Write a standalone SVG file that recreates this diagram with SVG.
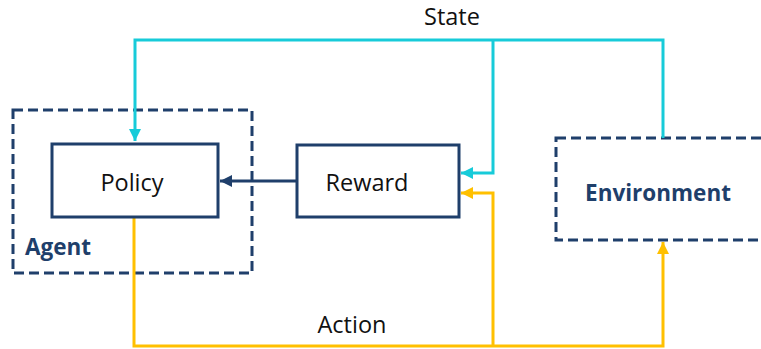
<svg xmlns="http://www.w3.org/2000/svg" width="761" height="349" viewBox="0 0 761 349">
  <style>
    .box { fill: #ffffff; stroke: #1f3f6b; stroke-width: 3; }
    .dash { fill: none; stroke: #1f3f6b; stroke-width: 3; stroke-dasharray: 10 5; }
    .label { font-family: "Open Sans", "Liberation Sans", sans-serif; font-size: 23.5px; fill: #111111; text-anchor: middle; }
    .title { font-family: "Open Sans", "Liberation Sans", sans-serif; font-size: 22.5px; font-weight: bold; fill: #1f3f6b; }
    .state { fill: none; stroke: #17cbd9; stroke-width: 3; stroke-linejoin: miter; }
    .action { fill: none; stroke: #ffc000; stroke-width: 3; stroke-linejoin: miter; }
    .link { fill: none; stroke: #1f3f6b; stroke-width: 3; }
  </style>
  <defs>
    <marker id="headCyan" viewBox="0 0 10 10" refX="10" refY="5" markerWidth="4" markerHeight="4" markerUnits="strokeWidth" orient="auto">
      <path d="M0,0 L10,5 L0,10 z" fill="#17cbd9"/>
    </marker>
    <marker id="headGold" viewBox="0 0 10 10" refX="10" refY="5" markerWidth="4" markerHeight="4" markerUnits="strokeWidth" orient="auto">
      <path d="M0,0 L10,5 L0,10 z" fill="#ffc000"/>
    </marker>
    <marker id="headNavy" viewBox="0 0 10 10" refX="10" refY="5" markerWidth="4" markerHeight="4" markerUnits="strokeWidth" orient="auto">
      <path d="M0,0 L10,5 L0,10 z" fill="#1f3f6b"/>
    </marker>
  </defs>

  <g id="agent">
    <rect class="dash" x="13" y="110" width="239" height="163"/>
    <text class="title" x="25" y="255">Agent</text>
  </g>

  <g id="environment">
    <rect class="dash" x="556" y="138" width="230" height="102"/>
    <text class="title" x="658" y="201" text-anchor="middle">Environment</text>
  </g>

  <g id="connectors">
    <!-- state feedback from the environment -->
    <path class="state" d="M663,138 V40 H135 V141" marker-end="url(#headCyan)"/>
    <path class="state" d="M493,40 V173 H461" marker-end="url(#headCyan)"/>
    <!-- action from the policy -->
    <path class="action" d="M134,218 V346 H663 V242" marker-end="url(#headGold)"/>
    <path class="action" d="M493,346 V193 H461" marker-end="url(#headGold)"/>
    <!-- reward into the policy -->
    <path class="link" d="M297,181 H220" marker-end="url(#headNavy)"/>
  </g>

  <g id="policy">
    <rect class="box" x="52" y="144" width="166" height="73"/>
    <text class="label" x="132" y="191">Policy</text>
  </g>

  <g id="reward">
    <rect class="box" x="297" y="145" width="162" height="72"/>
    <text class="label" x="367" y="191">Reward</text>
  </g>

  <text class="label" x="452" y="25">State</text>
  <text class="label" x="352" y="333">Action</text>
</svg>
